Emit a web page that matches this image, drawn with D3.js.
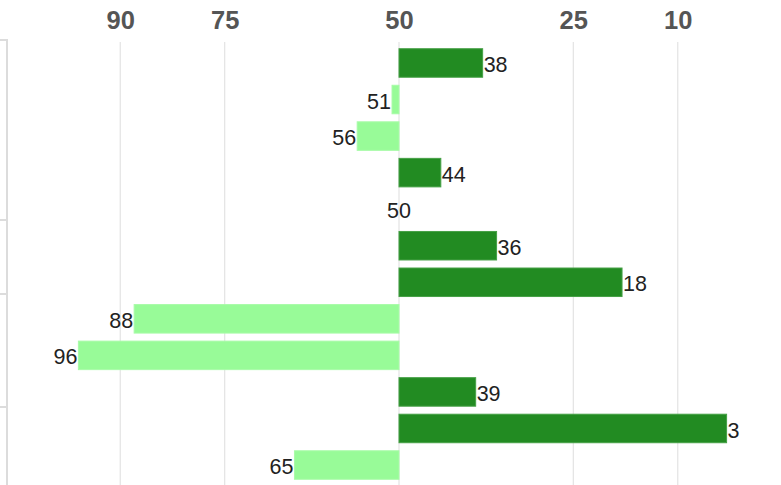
<!DOCTYPE html>
<html><head><meta charset="utf-8">
<script src="https://cdn.jsdelivr.net/npm/d3@7"></script>
<style>body{margin:0;background:#fff;}svg{display:block;}text{font-family:"Liberation Sans",Arial,sans-serif;}</style>
</head><body>
<svg id="c" width="781" height="485"></svg>
<script>
const rows = ["r1","r2","r3","r4","r5","r6","r7","r8","r9","r10","r11","r12"];
const values = [38,51,56,44,50,36,18,88,96,39,3,65];
const tickValues = [90,75,50,25,10];
const midValue = 50;
const frameTicks = [40,220,294,407];

const svg = d3.select("#c");
const W = 781, H = 485;
const x = d3.scaleLinear().domain([100,0]).range([50.5,747.5]);
const y = d3.scaleBand().domain(rows).range([44.7,483.3]).paddingInner(0.22).paddingOuter(0.11);

// left frame
svg.append("line").attr("x1",7).attr("x2",7).attr("y1",40).attr("y2",H)
  .attr("stroke","#dcdcdc").attr("stroke-width",2);
svg.selectAll(".ft").data(frameTicks).join("line")
  .attr("x1",0).attr("x2",8).attr("y1",d=>d).attr("y2",d=>d)
  .attr("stroke","#dcdcdc").attr("stroke-width",2);

// grid
svg.selectAll(".grid").data(tickValues).join("line")
  .attr("x1",d=>x(d)).attr("x2",d=>x(d)).attr("y1",42).attr("y2",H)
  .attr("stroke","#dddddd").attr("stroke-width",1);

// axis labels
const ax = svg.append("g").attr("transform","translate(0,28.5)")
  .call(d3.axisTop(x).tickValues(tickValues).tickSize(0).tickPadding(0));
ax.select(".domain").remove();
ax.selectAll("text").attr("font-family","Liberation Sans, Arial, sans-serif").attr("font-weight","bold")
  .attr("font-size",25.5).attr("fill","#555");

// bars
svg.selectAll(".bar").data(values).join("rect")
  .attr("x",d=>Math.min(x(d),x(midValue)))
  .attr("width",d=>Math.abs(x(d)-x(midValue)))
  .attr("y",(d,i)=>y(rows[i]))
  .attr("height",y.bandwidth())
  .attr("fill",d=>d<midValue?"#228B22":"#98FB98")
  .attr("stroke",d=>d<midValue?"#45a045":"#a8fba8").attr("stroke-width",d=>d===midValue?0:1);

// labels
svg.selectAll(".lbl").data(values).join("text")
  .attr("x",d=>d<midValue?x(d)+1:d>midValue?x(d)-1:x(d))
  .attr("y",(d,i)=>y(rows[i])+y.bandwidth()/2)
  .attr("dy","0.42em")
  .attr("text-anchor",d=>d<midValue?"start":d>midValue?"end":"middle")
  .attr("font-family","Liberation Sans, Arial, sans-serif")
  .attr("font-size",21.5).attr("fill","#222")
  .text(d=>d);
</script>
</body></html>
